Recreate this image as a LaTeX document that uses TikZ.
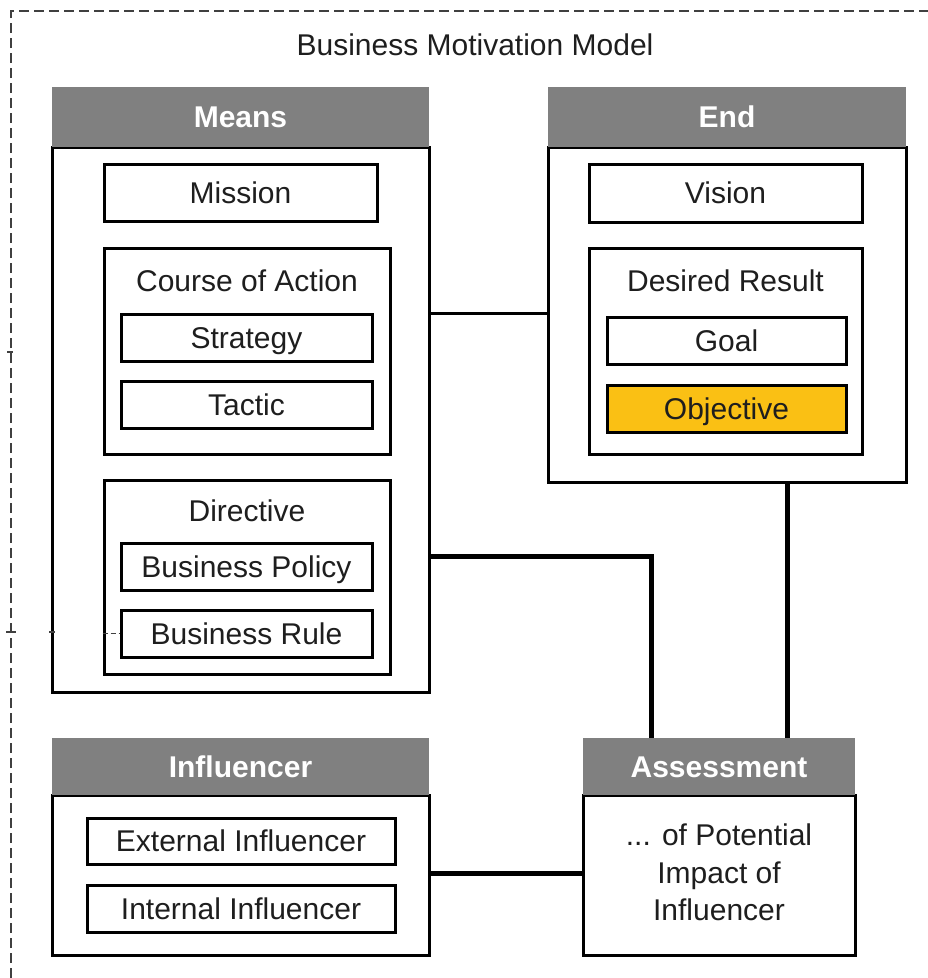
\documentclass[tikz,border=0pt]{standalone}
\usepackage{fontspec}
\setmainfont{Liberation Sans}
\definecolor{hdrgray}{RGB}{128,128,128}
\definecolor{objfill}{RGB}{250,192,20}
\definecolor{txtcol}{RGB}{30,30,30}
\tikzset{
  capc/.style={text height=21.5pt, text depth=0pt},
  bx/.style={draw=black, line width=3pt, fill=white, inner sep=0pt},
  hdr/.style={fill=hdrgray, draw=none, inner sep=0pt, capc, text=white, font=\fontsize{30}{36}\selectfont\bfseries},
  lbl/.style={inner sep=0pt, capc, text=txtcol, font=\fontsize{30}{36}\selectfont},
  item/.style={bx, capc, text=txtcol, font=\fontsize{30}{36}\selectfont},
  conthin/.style={line width=3pt, draw=black},
  conthick/.style={line width=5pt, draw=black},
  frame/.style={draw=black!75, line width=2.5pt, dash pattern=on 10pt off 5pt},
}
\begin{document}
\begin{tikzpicture}[x=1pt,y=-1pt]
\useasboundingbox (0,0) rectangle (928,978);
% outer dashed frame (top and left edges visible)
\draw[frame] (11,978) -- (11,11) -- (928,11);
\draw[black!75, line width=1.5pt] (6,632) -- (16,632);
\draw[black!75, line width=1.5pt] (7,352) -- (13,352);
% title
\node[lbl] (title) at (475,45) {Business Motivation Model};

% Means
\node[bx, minimum width=377, minimum height=545] (meansbody) at (240.5,419.5) {};
\node[hdr, minimum width=377, minimum height=60] (meanshdr) at (240.5,117) {Means};
\node[item, minimum width=273, minimum height=57] (mission) at (240.5,192.5) {Mission};
\node[bx, minimum width=286, minimum height=206] (coa) at (247,351) {};
\node[lbl] (coalbl) at (247,281) {Course of Action};
\node[item, minimum width=251, minimum height=47] (strategy) at (246.5,337.5) {Strategy};
\node[item, minimum width=251, minimum height=47] (tactic) at (246.5,404.5) {Tactic};
\node[bx, minimum width=286, minimum height=194] (directive) at (247,577) {};
\node[lbl] (dirlbl) at (247,511) {Directive};
\node[item, minimum width=251, minimum height=47] (bpolicy) at (246.5,566.5) {Business Policy};
\node[item, minimum width=251, minimum height=47] (brule) at (246.5,633.5) {Business Rule};
\draw[black!75, line width=1.8pt, dash pattern=on 5pt off 3pt] (directive.west |- brule) -- (brule.west);
\draw[black!75, line width=1.5pt] (49,632) -- (55,632);

% End
\node[bx, minimum width=358, minimum height=335] (endbody) at (727,314.5) {};
\node[hdr, minimum width=358, minimum height=60] (endhdr) at (727,117) {End};
\node[item, minimum width=273, minimum height=58] (vision) at (725.5,193) {Vision};
\node[bx, minimum width=273, minimum height=206] (desired) at (725.5,351) {};
\node[lbl] (drlbl) at (725.5,281) {Desired Result};
\node[item, minimum width=239, minimum height=47] (goal) at (726.5,340.5) {Goal};
\node[item, fill=objfill, minimum width=239, minimum height=47] (objective) at (726.5,408.5) {Objective};

% Influencer
\node[bx, minimum width=377, minimum height=160] (inflbody) at (240.5,875) {};
\node[hdr, minimum width=377, minimum height=57] (inflhdr) at (240.5,766.5) {Influencer};
\node[item, minimum width=308, minimum height=46] (extinf) at (241,841) {External Influencer};
\node[item, minimum width=308, minimum height=47] (intinf) at (241,908.5) {Internal Influencer};

% Assessment
\node[bx, minimum width=272, minimum height=160] (assbody) at (719,875) {};
\node[hdr, minimum width=272, minimum height=57] (asshdr) at (719,766.5) {Assessment};
\node[inner sep=0pt, text=txtcol, align=center, font=\fontsize{30}{37.5}\selectfont] (asstxt) at (719,872.5) {... of Potential\\Impact of\\Influencer};

% connectors
\coordinate (c1) at (0,313);
\coordinate (c2) at (651,556);
\coordinate (c3) at (787,0);
\coordinate (c4) at (0,873);
\draw[conthin] (meansbody.east |- c1) -- (endbody.west |- c1);
\draw[conthick] (meansbody.east |- c2) -| (asshdr.north -| c2);
\draw[conthick] (endbody.south -| c3) -- (asshdr.north -| c3);
\draw[conthick] (inflbody.east |- c4) -- (assbody.west |- c4);
\end{tikzpicture}
\end{document}
